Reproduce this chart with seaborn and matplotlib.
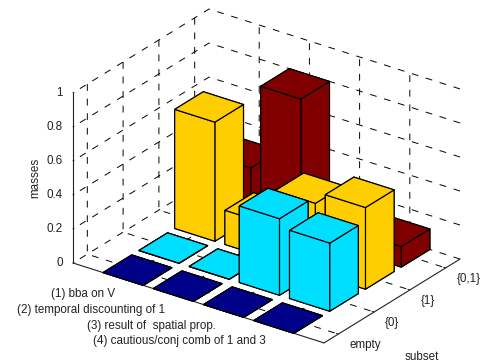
import numpy as np
import pandas as pd
import seaborn as sns
import matplotlib
matplotlib.use("Agg")
import matplotlib.pyplot as plt
from mpl_toolkits.mplot3d import proj3d

scenarios = ["(1) bba on V", "(2) temporal discounting of 1",
             "(3) result of  spatial prop.", "(4) cautious/conj comb of 1 and 3"]
subsets = ["empty", "{0}", "{1}", "{0,1}"]
mass_empty = [0.0, 0.0, 0.0, 0.0]
mass_0 = [0.0, 0.0, 0.45, 0.40]
mass_1 = [0.70, 0.20, 0.41, 0.48]
mass_01 = [0.30, 0.80, 0.14, 0.12]
ztick_values = [0, 0.2, 0.4, 0.6, 0.8, 1]
ztick_labels = ["0", "0.2", "0.4", "0.6", "0.8", "1"]
subset_colors = ["#000088", "#00DFFF", "#FFCE00", "#800000"]

sns.set_theme(style="white")
plt.rcParams["font.family"] = ["Liberation Sans", "DejaVu Sans"]
plt.rcParams["grid.color"] = "black"
plt.rcParams["grid.linewidth"] = 0.7
plt.rcParams["grid.linestyle"] = (0, (7, 8))

df = pd.DataFrame({"empty": mass_empty, "{0}": mass_0, "{1}": mass_1, "{0,1}": mass_01},
                  index=scenarios)
palette = sns.color_palette(subset_colors)
FS = 8.4
TXT = "#222222"

W, H = 485, 363
fig = plt.figure(figsize=(W / 100, H / 100), dpi=100)
ax = fig.add_axes([0, 0, 1, 1], projection="3d", proj_type="ortho")
ax.computed_zorder = False
ax.view_init(elev=26.3, azim=-54.3)
ax.set_box_aspect((309, 233, 189.7))
ax.set_xlim(0, 5)
ax.set_ylim(0.6, 4.4)
ax.set_zlim(0, 1)

# back-to-front painter's order
order = 0
for j in range(len(subsets) - 1, -1, -1):
    for i in range(len(scenarios)):
        order += 1
        ax.bar3d(i + 0.6, j + 0.6, 0, 0.8, 0.8, df.iloc[i, j], color=palette[j],
                 shade=False, edgecolor="black", linewidth=0.85, zorder=order)

ax.set_xticks(range(1, 5))
ax.set_xticklabels(scenarios, ha="right", va="center", fontsize=FS, color=TXT)
ax.set_yticks(range(1, 5))
ax.set_yticklabels(subsets, ha="left", va="center", fontsize=FS, color=TXT)
ax.set_zticks(ztick_values)
ax.set_zticklabels(ztick_labels, ha="right", va="center", fontsize=FS, color=TXT)
ax.zaxis.set_ticks_position("lower")
ax.zaxis.set_label_position("lower")
ax.zaxis.set_rotate_label(False)
ax.set_zlabel("masses", fontsize=FS, color=TXT, rotation=90, labelpad=-5.7)
ax.text2D(422 / W, 1 - 357 / H, "subset", transform=fig.transFigure, fontsize=FS,
          color=TXT, ha="center", va="center")

for axis in (ax.xaxis, ax.yaxis, ax.zaxis):
    axis.pane.set_facecolor("white")
    axis.pane.set_edgecolor("none")
    axis.line.set_color(TXT)
    axis.line.set_linewidth(0.8)
    axis._axinfo["tick"]["inward_factor"] = 0.0
    axis._axinfo["tick"]["outward_factor"] = 0.1
    axis._axinfo["tick"]["linewidth"] = {True: 0.7, False: 0.7}
    axis._axinfo["tick"]["color"] = TXT
ax.xaxis.set_tick_params(pad=1)
ax.yaxis.set_tick_params(pad=-1)
ax.zaxis.set_tick_params(pad=-3.8)


def px(x, y, z):
    ax.apply_aspect()
    X, Y, _ = proj3d.proj_transform(x, y, z, ax.get_proj())
    p = ax.transData.transform((X, Y))
    return np.array([p[0], H - p[1]])


# fit the box to the reference corners
left_target = np.array([73.0, 263.0])
right_target = np.array([460.0, 259.0])
side = 363.0
lx, by = 0.0, 0.0
for _ in range(3):
    ax.set_position([lx / W, by / H, side / W, side / H])
    a, b = px(0, 0.6, 0), px(5, 4.4, 0)
    side *= np.linalg.norm(right_target - left_target) / np.linalg.norm(b - a)
    ax.set_position([lx / W, by / H, side / W, side / H])
    a = px(0, 0.6, 0)
    lx += left_target[0] - a[0]
    by -= left_target[1] - a[1]
ax.set_position([lx / W, by / H, side / W, side / H])

fig.savefig("out.png", dpi=100, facecolor="white")
